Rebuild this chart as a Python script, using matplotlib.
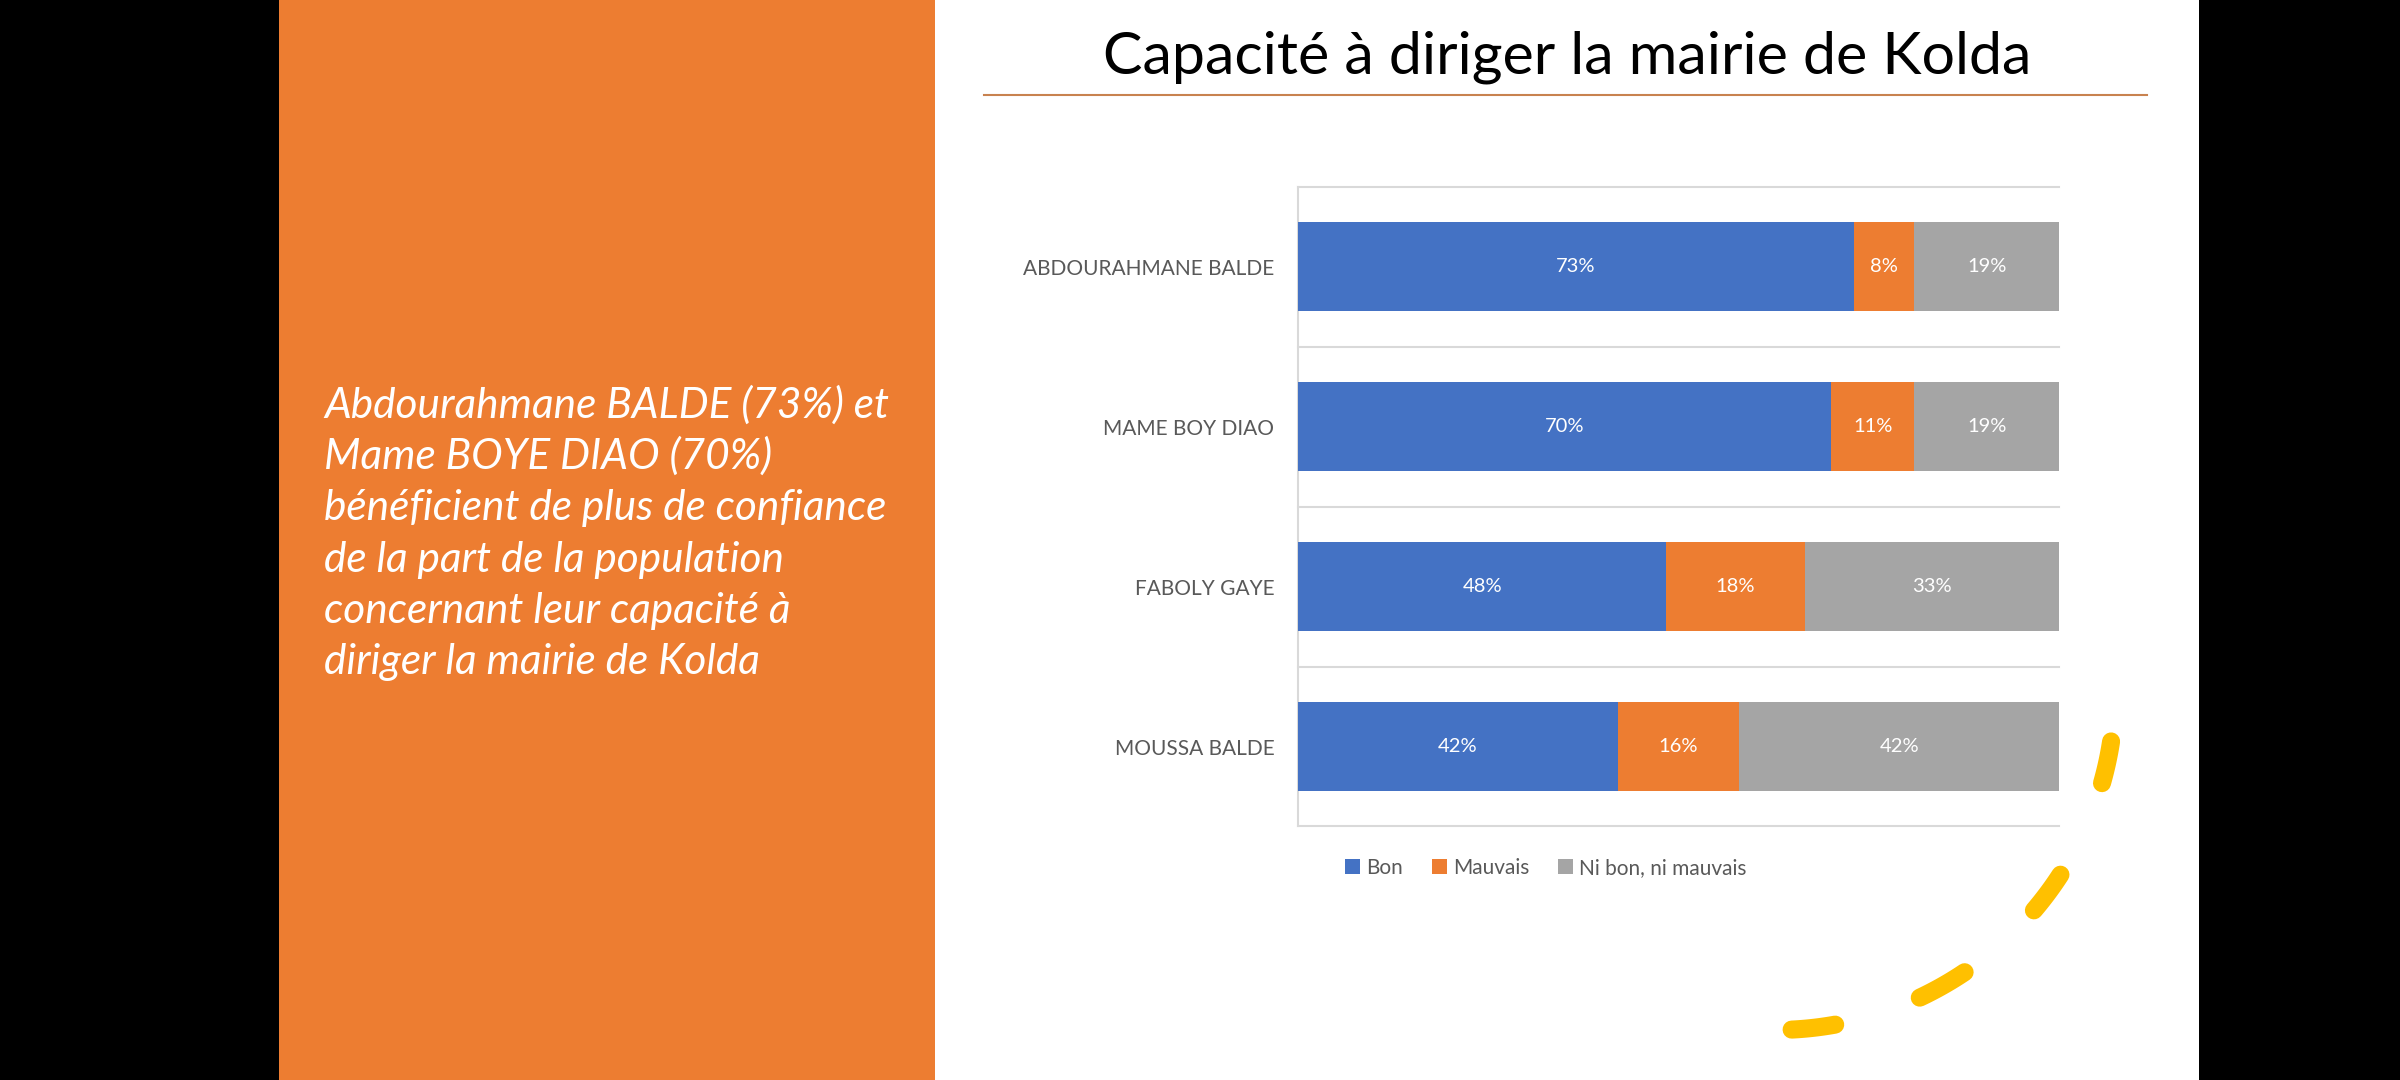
import matplotlib
matplotlib.use('Agg')
import matplotlib.pyplot as plt
from matplotlib.patches import Rectangle
from matplotlib.lines import Line2D
import numpy as np

# ---------------- data ----------------
candidates = ['ABDOURAHMANE BALDE', 'MAME BOY DIAO', 'FABOLY GAYE', 'MOUSSA BALDE']
bon = [73, 70, 48.4, 42]
mauvais = [8, 11, 18.2, 16]
ni_bon_ni_mauvais = [19, 19, 33.4, 42]
series_names = ['Bon', 'Mauvais', 'Ni bon, ni mauvais']
series_colors = ['#4472C4', '#ED7D31', '#A5A5A5']
title_text = 'Capacité à diriger la mairie de Kolda'
note_lines = [
    'Abdourahmane BALDE (73%) et',
    'Mame BOYE DIAO (70%)',
    'bénéficient de plus de confiance',
    'de la part de la population',
    'concernant leur capacité à',
    'diriger la mairie de Kolda',
]

# ---------------- figure ----------------
W, H, DPI = 2400, 1080, 100
plt.rcParams['font.family'] = ['Lato', 'DejaVu Sans']
fig = plt.figure(figsize=(W / DPI, H / DPI), dpi=DPI)
fig.patch.set_facecolor('white')


def fx(px):
    return px / W


def fy(py):
    return 1 - py / H


renderer = fig.canvas.get_renderer()


def fit_width(txt, target_px):
    bb = txt.get_window_extent(renderer=renderer)
    txt.set_fontsize(txt.get_fontsize() * target_px / bb.width)


# background panels
fig.add_artist(Rectangle((0, 0), fx(279), 1, transform=fig.transFigure,
                         facecolor='black', edgecolor='none', zorder=0))
fig.add_artist(Rectangle((fx(279), 0), fx(935 - 279), 1, transform=fig.transFigure,
                         facecolor='#ED7D31', edgecolor='none', zorder=0))
fig.add_artist(Rectangle((fx(2199), 0), fx(W - 2199), 1, transform=fig.transFigure,
                         facecolor='black', edgecolor='none', zorder=0))

# left note
base0, step = 418, 51.2
note_texts = []
for i, line in enumerate(note_lines):
    t = fig.text(fx(324), fy(base0 + i * step), line, color='white', style='italic',
                 fontsize=26, ha='left', va='baseline')
    note_texts.append(t)
bb = note_texts[2].get_window_extent(renderer=renderer)
scale = 563 / bb.width
for t in note_texts:
    t.set_fontsize(26 * scale)

# title
title = fig.text(fx(1567), fy(73), title_text, color='black', fontsize=40,
                 fontweight='normal', ha='center', va='baseline')
fit_width(title, 929)
fig.add_artist(Line2D([fx(984), fx(2147)], [fy(95), fy(95)], transform=fig.transFigure,
                      color='#C8824F', lw=1.5))

# chart
ax = fig.add_axes([fx(1298), fy(826.5), fx(2059 - 1298), (826.5 - 186.7) / H])
y = np.arange(len(candidates))
left = np.zeros(len(candidates))
handles = []
for vals, col, name in zip([bon, mauvais, ni_bon_ni_mauvais], series_colors, series_names):
    bars = ax.barh(y, vals, left=left, height=0.555, color=col, label=name, zorder=3)
    ax.bar_label(bars, labels=[f'{round(v)}%' for v in vals], label_type='center',
                 color='white', fontsize=14.5)
    handles.append(bars)
    left += np.array(vals)

ax.set_xlim(0, 100)
ax.set_ylim(len(candidates) - 0.5, -0.5)
ax.set_xticks([])
ax.set_yticks(y)
ax.set_yticklabels(candidates)
ax.tick_params(axis='y', length=0, pad=17, labelcolor='#595959', labelsize=15)
for b in np.arange(-0.5, len(candidates), 1.0):
    ax.axhline(b, color='#D9D9D9', lw=1.5, clip_on=False, zorder=1)
for s in ['top', 'right', 'bottom']:
    ax.spines[s].set_visible(False)
ax.spines['left'].set_color('#D9D9D9')
ax.spines['left'].set_linewidth(1.5)
ax.set_facecolor('none')

fig.legend(handles, series_names, loc='center', bbox_to_anchor=(fx(1546), fy(868)),
           ncol=3, frameon=False, fontsize=15, labelcolor='#595959',
           handlelength=0.7, handleheight=0.7, handletextpad=0.3, columnspacing=1.4)

# decorative yellow dashed arc
cx, cy, r = 1775, 690, 340
for a0, a1 in [(8.7, 15.9), (32.9, 40.4), (56.1, 64.8), (79.8, 87.2)]:
    th = np.radians(np.linspace(a0, a1, 30))
    xs = cx + r * np.cos(th)
    ys = cy + r * np.sin(th)
    fig.add_artist(Line2D(fx(xs), fy(ys), transform=fig.transFigure, color='#FFC000',
                          lw=13, solid_capstyle='round'))

fig.savefig('out.png', dpi=DPI, facecolor=fig.get_facecolor())
